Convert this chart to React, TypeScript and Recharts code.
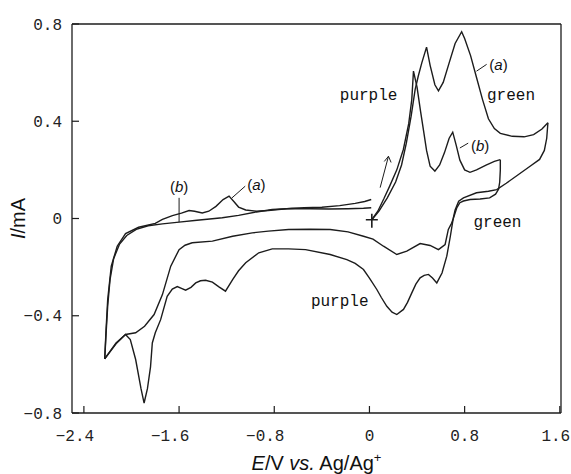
import { LineChart, Line, XAxis, YAxis, ReferenceLine, ReferenceDot, Label } from "recharts";

const xTicks = [-2.4, -1.6, -0.8, 0, 0.8, 1.6];
const yTicks = [-0.8, -0.4, 0, 0.4, 0.8];

// [E (V), I (mA)] pairs
// curve (a): swept out to +1.5 V
const fwdA = [
  [0.02, -0.005], [0.08, 0.03], [0.15, 0.085], [0.22, 0.15], [0.27, 0.22], [0.31, 0.31],
  [0.35, 0.42], [0.384, 0.53], [0.41, 0.585], [0.44, 0.64], [0.48, 0.705], [0.51, 0.63],
  [0.55, 0.55], [0.58, 0.525], [0.62, 0.56], [0.67, 0.64], [0.72, 0.72], [0.775, 0.768],
  [0.8, 0.74], [0.85, 0.67], [0.9, 0.58], [0.95, 0.49], [1.0, 0.41], [1.05, 0.37],
  [1.1, 0.35], [1.2, 0.338], [1.3, 0.336], [1.38, 0.345], [1.45, 0.368], [1.5, 0.394],
];
const revA = [
  [1.5, 0.394], [1.49, 0.33], [1.47, 0.28], [1.43, 0.243], [1.35, 0.215], [1.25, 0.18],
  [1.15, 0.145], [1.07, 0.119], [1.0, 0.112], [0.9, 0.106], [0.79, 0.085], [0.75, 0.071],
  [0.72, 0.035], [0.705, 0.003], [0.68, -0.073], [0.65, -0.155], [0.61, -0.224],
  [0.566, -0.265], [0.53, -0.245], [0.496, -0.23], [0.46, -0.234], [0.426, -0.244],
  [0.39, -0.27], [0.356, -0.306], [0.32, -0.345], [0.286, -0.374], [0.23, -0.395],
  [0.19, -0.385], [0.146, -0.361], [0.1, -0.325], [0.062, -0.292], [0.0, -0.245],
  [-0.05, -0.21], [-0.12, -0.185], [-0.19, -0.169], [-0.33, -0.148], [-0.537, -0.128],
  [-0.68, -0.125], [-0.817, -0.125], [-0.93, -0.141], [-1.04, -0.182], [-1.1, -0.215],
  [-1.15, -0.251], [-1.21, -0.299], [-1.265, -0.281], [-1.32, -0.262], [-1.377, -0.254],
  [-1.42, -0.256], [-1.46, -0.265], [-1.5, -0.283], [-1.545, -0.295], [-1.58, -0.287],
  [-1.615, -0.28], [-1.657, -0.29], [-1.7, -0.32], [-1.755, -0.416], [-1.8, -0.47],
  [-1.825, -0.512], [-1.84, -0.61], [-1.866, -0.7], [-1.894, -0.759], [-1.92, -0.7],
  [-1.965, -0.58], [-2.01, -0.498], [-2.05, -0.477], [-2.13, -0.512], [-2.225, -0.577],
];
const retA = [
  [-2.225, -0.577], [-2.215, -0.47], [-2.2, -0.333], [-2.17, -0.196], [-2.12, -0.114],
  [-2.05, -0.062], [-1.94, -0.036], [-1.8, -0.02], [-1.74, -0.004], [-1.656, 0.012],
  [-1.58, 0.022], [-1.516, 0.033], [-1.47, 0.03], [-1.405, 0.023], [-1.35, 0.03],
  [-1.29, 0.05], [-1.23, 0.078], [-1.18, 0.092], [-1.14, 0.07], [-1.1, 0.047],
  [-1.04, 0.035], [-0.95, 0.03], [-0.85, 0.033], [-0.7, 0.04], [-0.55, 0.044],
  [-0.4, 0.046], [-0.25, 0.053], [-0.12, 0.062], [-0.04, 0.07], [0.015, 0.078],
];

// curve (b): swept out to +1.1 V
const fwdB = [
  [0.02, -0.005], [0.07, 0.03], [0.12, 0.08], [0.17, 0.133], [0.23, 0.2], [0.285, 0.284],
  [0.33, 0.39], [0.356, 0.49], [0.37, 0.606], [0.4, 0.54], [0.43, 0.44], [0.455, 0.36],
  [0.48, 0.28], [0.51, 0.215], [0.55, 0.195], [0.59, 0.22], [0.63, 0.27], [0.67, 0.33],
  [0.7, 0.355], [0.73, 0.3], [0.76, 0.24], [0.8, 0.2], [0.845, 0.19], [0.9, 0.2],
  [0.98, 0.22], [1.05, 0.235], [1.1, 0.242],
];
const revB = [
  [1.1, 0.242], [1.1, 0.2], [1.095, 0.15], [1.085, 0.12], [1.06, 0.1], [1.01, 0.085],
  [0.93, 0.08], [0.846, 0.078], [0.79, 0.072], [0.76, 0.065], [0.735, 0.045], [0.72, 0.023],
  [0.705, 0.0], [0.69, -0.02], [0.663, -0.045], [0.636, -0.107], [0.58, -0.128],
  [0.51, -0.111], [0.426, -0.103], [0.314, -0.134], [0.23, -0.148], [0.118, -0.114],
  [0.03, -0.085], [-0.05, -0.073], [-0.18, -0.055], [-0.33, -0.045], [-0.5, -0.044],
  [-0.68, -0.045], [-0.85, -0.052], [-0.985, -0.059], [-1.15, -0.073], [-1.32, -0.093],
  [-1.49, -0.1], [-1.55, -0.11], [-1.6, -0.128], [-1.67, -0.196], [-1.74, -0.313],
  [-1.81, -0.395], [-1.89, -0.443], [-1.965, -0.47], [-2.05, -0.477], [-2.13, -0.515],
  [-2.225, -0.577],
];
const retB = [
  [-2.225, -0.577], [-2.212, -0.46], [-2.2, -0.36], [-2.18, -0.25], [-2.15, -0.165],
  [-2.1, -0.105], [-2.04, -0.07], [-1.96, -0.045], [-1.86, -0.03], [-1.74, -0.022],
  [-1.6, -0.015], [-1.45, -0.007], [-1.3, 0.0], [-1.237, 0.003], [-1.1, 0.013],
  [-0.95, 0.027], [-0.817, 0.037], [-0.65, 0.041], [-0.5, 0.04], [-0.34, 0.039],
  [-0.18, 0.04], [-0.05, 0.042], [0.015, 0.044],
];

const sweeps = [fwdA, revA, retA, fwdB, revB, retB];

// annotations (text at [E, I])
const notes: [number, number, string][] = [
  [-0.007, 0.51, "purple"],
  [1.19, 0.51, "green"],
  [1.076, -0.011, "green"],
  [-0.25, -0.338, "purple"],
];
const tags: [number, number, string][] = [
  [1.085, 0.634, "a"],
  [0.93, 0.3, "b"],
  [-0.95, 0.14, "a"],
  [-1.6, 0.13, "b"],
];
const leaders = [
  [[0.9, 0.606], [0.985, 0.634]],
  [[0.76, 0.29], [0.83, 0.31]],
  [[-1.155, 0.085], [-1.044, 0.133]],
  [[-1.6, 0.085], [-1.6, -0.015]],
];
const arrow = [[0.09, 0.127], [0.16, 0.256]];
const start = [0.02, -0.005];

const ink = "#1c1c1c";
const mono = "'Liberation Mono', monospace";
const sans = "'Liberation Sans', Arial, sans-serif";

const toPts = (arr: number[][]) => arr.map(([e, i]) => ({ e, i }));
const fmt = (v: number) => (v === 0 ? "0" : (v < 0 ? "\u2212" : "") + Math.abs(v).toFixed(1));

function XTick({ x, y, payload }: any) {
  const v = payload.value;
  return (
    <g>
      <line x1={x} x2={x} y1={y} y2={y - 7} stroke={ink} strokeWidth={1.2} />
      <text x={x + (v < 0 ? -9 : v > 1 ? -4 : 0)} y={y + 28} textAnchor="middle" fontFamily={mono} fontSize={16} fill="#222">
        {fmt(v)}
      </text>
    </g>
  );
}

function YTick({ x, y, payload }: any) {
  return (
    <g>
      <line x1={x} x2={x + 7} y1={y} y2={y} stroke={ink} strokeWidth={1.2} />
      <text x={x - 10} y={y + 5.5} textAnchor="end" fontFamily={mono} fontSize={16} fill="#222">
        {fmt(payload.value)}
      </text>
    </g>
  );
}

const xTitle = ({ viewBox }: any) => (
  <text x={viewBox.x + viewBox.width / 2} y={viewBox.y + 57} textAnchor="middle" fontFamily={sans} fontSize={20} fill="#111">
    <tspan fontStyle="italic">E</tspan>/V <tspan fontStyle="italic">vs.</tspan> Ag/Ag
    <tspan fontSize={13} dy={-8}>+</tspan>
  </text>
);

const yTitle = ({ viewBox }: any) => {
  const cy = viewBox.y + viewBox.height / 2;
  return (
    <text x={18} y={cy} transform={`rotate(-90 18 ${cy})`} textAnchor="middle" dominantBaseline="central" fontFamily={sans} fontSize={20} fill="#111">
      <tspan fontStyle="italic">I</tspan>/mA
    </text>
  );
};

export default function App() {
  return (
    <div style={{ position: "absolute", left: 0, top: 0 }}>
      <LineChart width={571} height={474} margin={{ top: 24, right: 10, left: 0, bottom: 0 }}>
        <XAxis
          type="number"
          dataKey="e"
          domain={[-2.5, 1.61]}
          ticks={xTicks}
          interval={0}
          tickSize={0}
          tickMargin={0}
          tickLine={false}
          tick={<XTick />}
          height={61}
          axisLine={{ stroke: ink, strokeWidth: 1.3 }}
          allowDataOverflow
        >
          <Label content={xTitle} />
        </XAxis>
        <YAxis
          type="number"
          dataKey="i"
          domain={[-0.8, 0.8]}
          ticks={yTicks}
          interval={0}
          tickSize={0}
          tickMargin={0}
          tickLine={false}
          tick={<YTick />}
          width={72}
          axisLine={{ stroke: ink, strokeWidth: 1.3 }}
          allowDataOverflow
        >
          <Label content={yTitle} />
        </YAxis>
        <ReferenceLine y={0.8} stroke={ink} strokeWidth={1.3} />
        <ReferenceLine x={1.61} stroke={ink} strokeWidth={1.3} />

        {sweeps.map((s, k) => (
          <Line
            key={k}
            data={toPts(s)}
            dataKey="i"
            type="linear"
            stroke={ink}
            strokeWidth={1.4}
            dot={false}
            activeDot={false}
            isAnimationActive={false}
          />
        ))}

        {leaders.map((seg, k) => (
          <ReferenceLine
            key={"l" + k}
            segment={seg.map(([x, y]) => ({ x, y }))}
            stroke={ink}
            strokeWidth={1}
          />
        ))}
        <ReferenceLine segment={arrow.map(([x, y]) => ({ x, y }))} stroke={ink} strokeWidth={1} />
        <ReferenceDot
          x={arrow[1][0]}
          y={arrow[1][1]}
          shape={(p: any) => (
            <path d={`M${p.cx - 4.2},${p.cy + 5.2} L${p.cx},${p.cy} L${p.cx + 2.6},${p.cy + 6.2}`} fill="none" stroke={ink} strokeWidth={1} />
          )}
        />
        <ReferenceDot
          x={start[0]}
          y={start[1]}
          shape={(p: any) => (
            <path d={`M${p.cx - 6},${p.cy} H${p.cx + 6} M${p.cx},${p.cy - 6} V${p.cy + 8}`} stroke={ink} strokeWidth={1.6} />
          )}
        />

        {notes.map(([x, y, t], k) => (
          <ReferenceDot
            key={"n" + k}
            x={x}
            y={y}
            shape={(p: any) => (
              <text x={p.cx} y={p.cy} dy="0.35em" textAnchor="middle" fontFamily={mono} fontSize={16} fill="#111">
                {t}
              </text>
            )}
          />
        ))}
        {tags.map(([x, y, t], k) => (
          <ReferenceDot
            key={"t" + k}
            x={x}
            y={y}
            shape={(p: any) => (
              <text x={p.cx} y={p.cy} dy="0.35em" textAnchor="middle" fontFamily={sans} fontSize={15} fill="#111">
                (<tspan fontStyle="italic">{t}</tspan>)
              </text>
            )}
          />
        ))}
      </LineChart>
    </div>
  );
}
